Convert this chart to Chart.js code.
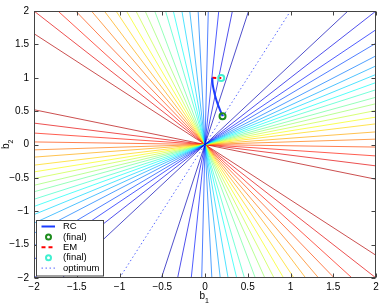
<!DOCTYPE html>
<html>
<head>
<meta charset="utf-8">
<script src="https://cdn.jsdelivr.net/npm/chart.js"></script>
<style>
  html, body { margin: 0; padding: 0; background: #ffffff; }
  #chart { display: block; }
</style>
</head>
<body>
<canvas id="chart" width="382" height="307"></canvas>
<script>
// contour levels: angle (deg) of each line through the origin
// "upper" = the line on the counter-clockwise side of the optimum, "lower" = the other one
const angleUpper = [75.7, 80.9, 85.4, 88.9, 92.3, 95.1, 97.7, 100.5, 103.0, 106.4,
                    109.3, 112.0, 114.7, 117.5, 120.5, 123.6, 127.1, 130.7, 135.0, 140.3];
const angleLower = [50.1, 45.0, 40.7, 37.2, 33.6, 30.5, 27.7, 24.9, 22.3, 19.5,
                    17.0, 14.3, 11.6, 8.8, 5.4, 2.3, -1.1, -4.9, -9.1, -14.6];
const levelColors = ['#0000b3', '#0000e3', '#0014ff', '#0045ff', '#0075ff', '#00a6ff', '#00d6ff',
                     '#08fff7', '#38ffc7', '#66ff99', '#99ff66', '#c7ff38', '#f7ff08', '#ffd600',
                     '#ffa600', '#ff7500', '#ff4500', '#ff1400', '#e30000', '#b30000'];

// RC path and EM path
const rcB1 = [0.085, 0.09, 0.105, 0.125, 0.15, 0.175, 0.205];
const rcB2 = [1.0, 0.9, 0.8, 0.7, 0.6, 0.52, 0.425];
const emB1 = [0.085, 0.19];
const emB2 = [1.0, 0.995];
const rcFinal = [0.205, 0.425];
const emFinal = [0.19, 0.995];
const optB1 = [-1, 1];
const optB2 = [-2, 2];

const tickValues = [-2, -1.5, -1, -0.5, 0, 0.5, 1, 1.5, 2];

const pts = (xs, ys) => xs.map((x, i) => ({ x: x, y: ys[i] }));
const fmt = v => v < 0 ? '\u2212' + Math.abs(v) : String(v);
const FONT = '"Liberation Sans", Arial, sans-serif';

// contour line datasets (thin lines, a bit washed out like the original)
const contourSets = [];
levelColors.forEach((c, i) => {
  [angleUpper[i], angleLower[i]].forEach(a => {
    const r = a * Math.PI / 180;
    contourSets.push({
      label: '',
      data: [{ x: -4 * Math.cos(r), y: -4 * Math.sin(r) }, { x: 4 * Math.cos(r), y: 4 * Math.sin(r) }],
      showLine: true,
      borderColor: c + 'b0',
      borderWidth: 1,
      pointRadius: 0,
      fill: false
    });
  });
});

const rcFinalSet = {
  label: '(final)', data: [{ x: rcFinal[0], y: rcFinal[1] }],
  pointRadius: 3, pointBorderWidth: 2, borderColor: '#1e8c1e', backgroundColor: 'rgba(0,0,0,0)'
};
const emFinalSet = {
  label: '(final)', data: [{ x: emFinal[0], y: emFinal[1] }],
  pointRadius: 3, pointBorderWidth: 2, borderColor: '#40f0d0', backgroundColor: 'rgba(0,0,0,0)'
};
const rcSet = {
  label: 'RC', data: pts(rcB1, rcB2), showLine: true, borderColor: '#1a3cff',
  borderWidth: 2, pointRadius: 0, tension: 0.3
};
const emSet = {
  label: 'EM', data: pts(emB1, emB2), showLine: true, borderColor: '#ff0000',
  borderWidth: 2, borderDash: [4, 3], pointRadius: 0
};
const optSet = {
  label: 'optimum', data: pts(optB1, optB2), showLine: true, borderColor: '#5566ff',
  borderWidth: 1, borderDash: [1.5, 2.5], pointRadius: 0
};

// legend drawn inside the axes, MATLAB style
const legendItems = [
  { set: rcSet, kind: 'line' },
  { set: rcFinalSet, kind: 'marker' },
  { set: emSet, kind: 'line' },
  { set: emFinalSet, kind: 'marker' },
  { set: optSet, kind: 'line' }
];

const matlabAxes = {
  id: 'matlabAxes',
  afterDatasetsDraw(chart) {
    const ctx = chart.ctx;
    const a = chart.chartArea;
    const xs = chart.scales.x, ys = chart.scales.y;
    ctx.save();

    // box
    ctx.strokeStyle = '#444';
    ctx.lineWidth = 1;
    ctx.setLineDash([]);
    const L = Math.round(a.left) + 0.5, R = Math.round(a.right) - 0.5;
    const T = Math.round(a.top) + 0.5, B = Math.round(a.bottom) - 0.5;
    ctx.strokeRect(L, T, R - L, B - T);

    // inward ticks on all four sides
    ctx.beginPath();
    tickValues.forEach(v => {
      const px = Math.round(xs.getPixelForValue(v)) + 0.5;
      ctx.moveTo(px, B); ctx.lineTo(px, B - 4);
      ctx.moveTo(px, T); ctx.lineTo(px, T + 4);
      const py = Math.round(ys.getPixelForValue(v)) + 0.5;
      ctx.moveTo(L, py); ctx.lineTo(L + 4, py);
      ctx.moveTo(R, py); ctx.lineTo(R - 4, py);
    });
    ctx.stroke();

    // axis titles b1 / b2
    ctx.fillStyle = '#000';
    ctx.textBaseline = 'alphabetic';
    ctx.textAlign = 'left';
    ctx.font = '10px ' + FONT;
    ctx.fillText('b', 199.5, 298.5);
    ctx.font = '7px ' + FONT;
    ctx.fillText('1', 205, 302.5);

    ctx.save();
    ctx.translate(8.5, 149);
    ctx.rotate(-Math.PI / 2);
    ctx.font = '10px ' + FONT;
    ctx.fillText('b', 0, 0);
    ctx.font = '7px ' + FONT;
    ctx.fillText('2', 5.6, 4);
    ctx.restore();

    // legend box
    const bx = 36.5, by = 220.5, bw = 67, bh = 55.5;
    ctx.fillStyle = '#ffffff';
    ctx.fillRect(bx, by, bw, bh);
    ctx.strokeStyle = '#444';
    ctx.lineWidth = 1;
    ctx.strokeRect(bx, by, bw, bh);

    ctx.font = '9.5px ' + FONT;
    ctx.textBaseline = 'middle';
    legendItems.forEach((it, i) => {
      const y = 226.5 + i * 10.4;
      const s = it.set;
      ctx.save();
      if (it.kind === 'line') {
        ctx.strokeStyle = s.borderColor;
        ctx.lineWidth = s.borderWidth;
        ctx.setLineDash(s.borderDash || []);
        ctx.beginPath();
        ctx.moveTo(41.5, y);
        ctx.lineTo(55, y);
        ctx.stroke();
      } else {
        ctx.strokeStyle = s.borderColor;
        ctx.lineWidth = s.pointBorderWidth;
        ctx.beginPath();
        ctx.arc(48.5, y, s.pointRadius - 0.5, 0, Math.PI * 2);
        ctx.stroke();
      }
      ctx.restore();
      ctx.fillStyle = '#000';
      ctx.fillText(s.label, 63, y);
    });

    ctx.restore();
  }
};

new Chart(document.getElementById('chart'), {
  type: 'scatter',
  data: {
    // first dataset is drawn on top
    datasets: [rcFinalSet, emFinalSet, rcSet, emSet, optSet].concat(contourSets)
  },
  options: {
    responsive: false,
    animation: false,
    devicePixelRatio: 1,
    layout: { padding: { left: 0, top: 9, right: 6, bottom: 0 } },
    plugins: { legend: { display: false }, tooltip: { enabled: false } },
    scales: {
      x: {
        type: 'linear', min: -2, max: 2,
        grid: { display: false, drawTicks: false },
        border: { display: false },
        ticks: {
          stepSize: 0.5, maxRotation: 0, padding: 3, color: '#000',
          font: { family: FONT, size: 10 }, callback: v => fmt(v)
        },
        afterFit(s) { s.height = 29; }
      },
      y: {
        type: 'linear', min: -2, max: 2,
        grid: { display: false, drawTicks: false },
        border: { display: false },
        ticks: {
          stepSize: 0.5, padding: 5, color: '#000',
          font: { family: FONT, size: 10 }, callback: v => fmt(v)
        },
        afterFit(s) { s.width = 34; }
      }
    }
  },
  plugins: [matlabAxes]
});
</script>
</body>
</html>
